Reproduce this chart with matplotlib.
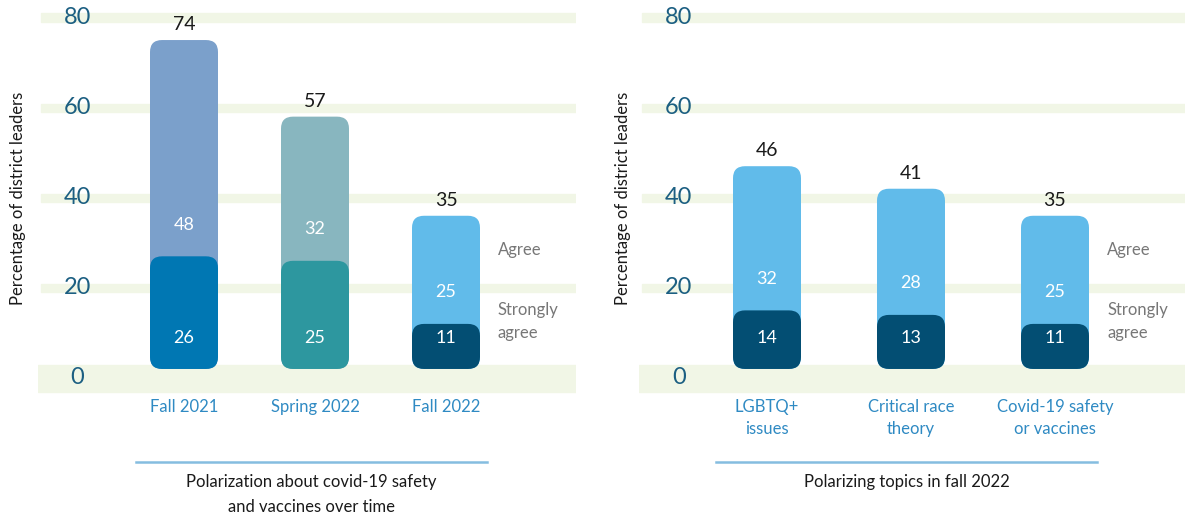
import matplotlib.pyplot as plt
from matplotlib.patches import FancyBboxPatch
from matplotlib.lines import Line2D

plt.rcParams['font.family'] = ['Lato', 'DejaVu Sans']

# Data
left_categories = ['Fall 2021', 'Spring 2022', 'Fall 2022']
left_strongly = [26, 25, 11]
left_agree = [48, 32, 25]
left_total = [74, 57, 35]
left_title = 'Polarization about covid-19 safety\nand vaccines over time'

right_categories = ['LGBTQ+\nissues', 'Critical race\ntheory', 'Covid-19 safety\nor vaccines']
right_strongly = [14, 13, 11]
right_agree = [32, 28, 25]
right_total = [46, 41, 35]
right_title = 'Polarizing topics in fall 2022'

y_ticks = [0, 20, 40, 60, 80]

# Colours
left_agree_colors = ['#7ba0cb', '#88b6bf', '#61bbea']
left_strong_colors = ['#0077b3', '#2d979f', '#034e73']
right_agree_colors = ['#61bbea'] * 3
right_strong_colors = ['#034e73'] * 3
grid_color = '#f1f6e6'
tick_color = '#1c5f82'
cat_color = '#2f8ac3'
note_color = '#777777'
sep_color = '#85bde0'

W, H = 1185, 518
BAR_BASE = 2
BAR_CAP = 1


def draw_panel(ax, px_left, px_right, spacing, cats, strong, agree, total,
               agree_cols, strong_cols):
    ax.set_xlim(px_left / spacing, px_right / spacing)
    ax.set_ylim(-5, 82)
    ax.axis('off')

    # background bands
    ax.axhspan(-3.1, 2.9, color=grid_color, zorder=0)
    for v in y_ticks[1:]:
        ax.axhspan(v - 0.9, v + 0.9, xmin=0.006, color=grid_color, zorder=0)

    # tick labels
    for v in y_ticks:
        ax.text(0.073, v, str(v), transform=ax.get_yaxis_transform(),
                ha='center', va='center', fontsize=17, color=tick_color)

    # bars with rounded corners
    bw = 68 / spacing
    aspect = spacing / 4.506
    r = 12 / spacing
    for i in range(len(cats)):
        top = total[i] + BAR_CAP
        ax.add_patch(FancyBboxPatch((i - bw / 2, BAR_BASE), bw, top - BAR_BASE,
                                    boxstyle=f'round,pad=0,rounding_size={r}',
                                    mutation_aspect=aspect, fc=agree_cols[i],
                                    ec='none', zorder=2))
        ax.add_patch(FancyBboxPatch((i - bw / 2, BAR_BASE), bw,
                                    strong[i] + BAR_CAP - BAR_BASE,
                                    boxstyle=f'round,pad=0,rounding_size={r}',
                                    mutation_aspect=aspect, fc=strong_cols[i],
                                    ec='none', zorder=3))
        ax.text(i, top + 3.4, str(total[i]), ha='center', va='center',
                fontsize=14, color='#1a1a1a')
        ax.text(i, strong[i] + 8, str(agree[i]), ha='center', va='center',
                fontsize=13, color='white', zorder=4)
        ax.text(i, 8.9, str(strong[i]), ha='center', va='center',
                fontsize=13, color='white', zorder=4)
        ax.text(i, -4.6, cats[i], ha='center', va='top', fontsize=12,
                color=cat_color, linespacing=1.5, clip_on=False)

    # segment notes next to last bar
    xn = len(cats) - 1 + bw / 2 + 18 / spacing
    ax.text(xn, 28.4, 'Agree', ha='left', va='center', fontsize=12, color=note_color)
    ax.text(xn, 12.6, 'Strongly\nagree', ha='left', va='center', fontsize=12,
            color=note_color, linespacing=1.55)


fig = plt.figure(figsize=(W / 100, H / 100), dpi=100)

# Left panel: axes from x=38 to 576 px, bar centres from 184 px, spacing 131 px
ax1 = fig.add_axes([38 / W, (H - 400.5) / H, (576 - 38) / W, 392 / H])
draw_panel(ax1, 38 - 184, 576 - 184, 131, left_categories, left_strongly,
           left_agree, left_total, left_agree_colors, left_strong_colors)

# Right panel: axes from x=639 to 1185 px, bar centres from 767 px, spacing 144 px
ax2 = fig.add_axes([639 / W, (H - 400.5) / H, (1185 - 639) / W, 392 / H])
draw_panel(ax2, 639 - 767, 1185 - 767, 144, right_categories, right_strongly,
           right_agree, right_total, right_agree_colors, right_strong_colors)

# y labels
for x in [18, 623]:
    fig.text(x / W, 1 - 198 / H, 'Percentage of district leaders', rotation=90,
             ha='center', va='center', fontsize=12, color='#1a1a1a')

# separators and titles
fig.add_artist(Line2D([136 / W, 487 / W], [1 - 462 / H] * 2, color=sep_color, lw=1.8))
fig.add_artist(Line2D([716 / W, 1097 / W], [1 - 462 / H] * 2, color=sep_color, lw=1.8))
fig.text(311 / W, 1 - 474 / H, left_title, ha='center', va='top', fontsize=12,
         color='#1a1a1a', linespacing=1.7)
fig.text(907 / W, 1 - 474 / H, right_title, ha='center', va='top', fontsize=12,
         color='#1a1a1a')

fig.savefig('out.png', dpi=100)
